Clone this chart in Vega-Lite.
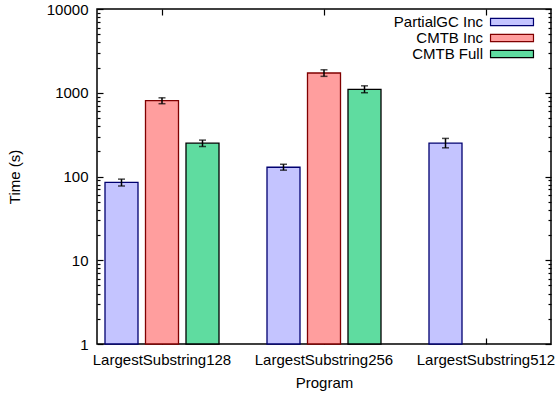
{
  "$schema": "https://vega.github.io/schema/vega-lite/v6.json",
  "width": 454,
  "height": 335,
  "autosize": {"type": "none"},
  "padding": {"left": 97, "top": 9, "right": 7, "bottom": 50},
  "background": "white",
  "config": {
    "font": "Liberation Sans",
    "view": {"stroke": "black", "strokeWidth": 1.5},
    "axis": {"labelFont": "Liberation Sans", "titleFont": "Liberation Sans", "labelFontSize": 15, "titleFontSize": 15, "titleFontWeight": "normal", "labelColor": "black", "titleColor": "black", "tickColor": "black", "tickWidth": 1.2, "domain": false, "grid": false},
    "legend": {"labelFont": "Liberation Sans", "labelFontSize": 15, "labelColor": "black", "padding": 0}
  },
  "data": {
    "values": [
      {"program": "LargestSubstring128", "series": "PartialGC Inc", "value": 85, "lo": 77, "hi": 93},
      {"program": "LargestSubstring128", "series": "CMTB Inc", "value": 804, "lo": 740, "hi": 870},
      {"program": "LargestSubstring128", "series": "CMTB Full", "value": 250, "lo": 228, "hi": 272},
      {"program": "LargestSubstring256", "series": "PartialGC Inc", "value": 129, "lo": 119, "hi": 140},
      {"program": "LargestSubstring256", "series": "CMTB Inc", "value": 1720, "lo": 1570, "hi": 1880},
      {"program": "LargestSubstring256", "series": "CMTB Full", "value": 1100, "lo": 1000, "hi": 1210},
      {"program": "LargestSubstring512", "series": "PartialGC Inc", "value": 250, "lo": 220, "hi": 285}
    ]
  },
  "resolve": {"scale": {"x": "shared", "y": "shared"}, "axis": {"x": "independent", "y": "independent"}},
  "layer": [
    {
      "mark": {"type": "bar", "strokeWidth": 1.3},
      "encoding": {
        "x": {"field": "program", "type": "nominal", "sort": null,
              "scale": {"range": [-16, 470], "paddingInner": 0, "paddingOuter": 0},
              "axis": {"orient": "bottom", "title": "Program", "labelAngle": 0, "tickSize": -6, "labelPadding": 14, "titlePadding": 8, "labelLimit": 300}},
        "xOffset": {"field": "series", "type": "nominal", "sort": ["PartialGC Inc", "CMTB Inc", "CMTB Full"],
              "scale": {"domain": ["PartialGC Inc", "CMTB Inc", "CMTB Full"], "paddingInner": 0.185, "paddingOuter": 0.5925}},
        "y": {"field": "value", "type": "quantitative", "stack": null,
              "scale": {"type": "log", "domain": [1, 10000], "nice": false},
              "axis": {"orient": "left", "title": "Time (s)", "values": [1,2,3,4,5,6,7,8,9,10,20,30,40,50,60,70,80,90,100,200,300,400,500,600,700,800,900,1000,2000,3000,4000,5000,6000,7000,8000,9000,10000],
                       "labelExpr": "indexof([1,10,100,1000,10000], datum.value) >= 0 ? format(datum.value, 'd') : ''",
                       "tickSize": {"condition": {"test": "indexof([1,10,100,1000,10000], datum.value) >= 0", "value": -6}, "value": -3},
                       "labelPadding": 15, "titlePadding": 24}},
        "y2": {"datum": 1},
        "fill": {"field": "series", "type": "nominal",
                 "scale": {"domain": ["PartialGC Inc", "CMTB Inc", "CMTB Full"], "range": ["#c4c4ff", "#ff9e9e", "#5fdca0"]},
                 "legend": {"title": null, "orient": "none", "legendX": 407, "legendY": 5, "labelAlign": "right", "labelOffset": -37,
                            "symbolType": "M-3,-0.5H3V0.5H-3Z", "symbolSize": 205, "rowPadding": -8, "symbolStrokeWidth": 1.2}},
        "stroke": {"field": "series", "type": "nominal",
                   "scale": {"domain": ["PartialGC Inc", "CMTB Inc", "CMTB Full"], "range": ["#000070", "#800000", "#000000"]},
                   "legend": {"title": null, "orient": "none", "legendX": 407, "legendY": 5, "labelAlign": "right", "labelOffset": -37,
                            "symbolType": "M-3,-0.5H3V0.5H-3Z", "symbolSize": 205, "rowPadding": -8, "symbolStrokeWidth": 1.2}}
      }
    },
    {
      "mark": {"type": "rule", "color": "black", "strokeWidth": 1.5},
      "encoding": {
        "x": {"field": "program", "type": "nominal", "sort": null, "axis": null},
        "xOffset": {"field": "series", "type": "nominal"},
        "y": {"field": "lo", "type": "quantitative", "axis": null},
        "y2": {"field": "hi"}
      }
    },
    {
      "mark": {"type": "tick", "color": "black", "thickness": 1.5, "size": 7},
      "encoding": {
        "x": {"field": "program", "type": "nominal", "sort": null, "axis": null},
        "xOffset": {"field": "series", "type": "nominal"},
        "y": {"field": "lo", "type": "quantitative", "axis": null}
      }
    },
    {
      "mark": {"type": "tick", "color": "black", "thickness": 1.5, "size": 7},
      "encoding": {
        "x": {"field": "program", "type": "nominal", "sort": null, "axis": null},
        "xOffset": {"field": "series", "type": "nominal"},
        "y": {"field": "hi", "type": "quantitative", "axis": null}
      }
    },
    {
      "mark": {"type": "point", "opacity": 0},
      "encoding": {
        "x": {"field": "program", "type": "nominal", "sort": null,
              "axis": {"orient": "top", "title": null, "labels": false, "tickSize": -6}},
        "y": {"field": "value", "type": "quantitative",
              "axis": {"orient": "right", "title": null, "labels": false, "values": [1,2,3,4,5,6,7,8,9,10,20,30,40,50,60,70,80,90,100,200,300,400,500,600,700,800,900,1000,2000,3000,4000,5000,6000,7000,8000,9000,10000],
                       "tickSize": {"condition": {"test": "indexof([1,10,100,1000,10000], datum.value) >= 0", "value": -6}, "value": -3}}}
      }
    }
  ]
}
